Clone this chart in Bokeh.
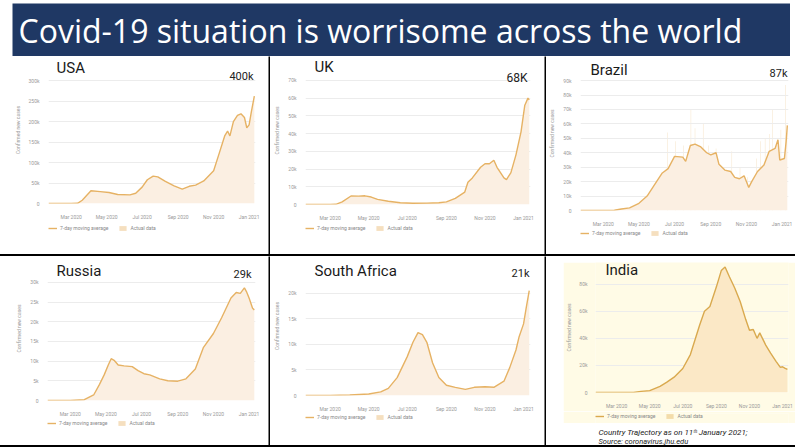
import pandas as pd
from bokeh.plotting import figure
from bokeh.layouts import column, row
from bokeh.models import (FixedTicker, DatetimeTickFormatter, Legend, LegendItem,
                          Label, Range1d, Spacer)
from bokeh.embed import file_html
from bokeh.resources import INLINE

TITLE = "Covid-19 situation is worrisome across the world"
CAPTION = "Country Trajectory as on 11ᵗʰ January 2021;"
CAPTION2 = "Source: coronavirus.jhu.edu"
Y_LABEL = "Confirmed new cases"
LEGEND_LINE = "7-day moving average"
LEGEND_BAR = "Actual data"

X_TICKS = ["2020-03-01", "2020-05-01", "2020-07-01", "2020-09-01", "2020-11-01", "2021-01-01"]
X_TICK_LABELS = ["Mar 2020", "May 2020", "Jul 2020", "Sep 2020", "Nov 2020", "Jan 2021"]

# values in thousands of confirmed new cases (7-day average)
usa_dates = ["2020-01-22", "2020-03-01", "2020-03-12", "2020-03-20", "2020-04-04", "2020-04-20",
             "2020-05-05", "2020-05-20", "2020-06-10", "2020-06-20", "2020-07-01", "2020-07-10",
             "2020-07-20", "2020-07-28", "2020-08-10", "2020-08-25", "2020-09-08", "2020-09-20",
             "2020-10-01", "2020-10-15", "2020-11-01", "2020-11-10", "2020-11-20", "2020-11-25",
             "2020-11-29", "2020-12-05", "2020-12-12", "2020-12-18", "2020-12-24", "2020-12-28",
             "2021-01-01", "2021-01-05", "2021-01-10"]
usa_avg = [0, 0, 0.5, 8, 31, 29, 27, 22, 21, 25, 40, 58, 67, 65, 54, 43, 35, 42, 45, 55, 80, 120,
           165, 177, 165, 200, 215, 219, 210, 185, 192, 225, 262]
usa_ticks = [0, 50, 100, 150, 200, 250, 300]
usa_tick_labels = ["0", "50k", "100k", "150k", "200k", "250k", "300k"]

uk_dates = ["2020-01-22", "2020-03-01", "2020-03-10", "2020-03-20", "2020-04-03", "2020-04-15",
            "2020-04-25", "2020-05-05", "2020-05-15", "2020-06-01", "2020-06-20", "2020-07-10",
            "2020-08-01", "2020-08-20", "2020-09-01", "2020-09-15", "2020-09-30", "2020-10-05",
            "2020-10-12", "2020-10-25", "2020-11-01", "2020-11-08", "2020-11-15", "2020-11-20",
            "2020-12-01", "2020-12-05", "2020-12-12", "2020-12-20", "2020-12-28", "2021-01-03",
            "2021-01-08", "2021-01-10"]
uk_avg = [0, 0, 0.1, 1.5, 4.8, 4.7, 4.9, 4.2, 2.9, 1.8, 1.0, 0.7, 0.8, 1.0, 1.5, 3.5, 7, 12.5, 15,
          21, 23, 23, 25, 21, 15, 14, 18, 28, 41, 56, 60, 59]
uk_ticks = [0, 10, 20, 30, 40, 50, 60, 70]
uk_tick_labels = ["0", "10k", "20k", "30k", "40k", "50k", "60k", "70k"]

brazil_dates = ["2020-01-22", "2020-03-01", "2020-03-20", "2020-04-01", "2020-04-15", "2020-05-01",
                "2020-05-15", "2020-06-01", "2020-06-10", "2020-06-20", "2020-07-01", "2020-07-15",
                "2020-07-20", "2020-07-28", "2020-08-05", "2020-08-15", "2020-08-25", "2020-09-01",
                "2020-09-10", "2020-09-15", "2020-09-25", "2020-10-05", "2020-10-12", "2020-10-20",
                "2020-10-28", "2020-11-05", "2020-11-10", "2020-11-20", "2020-12-01", "2020-12-10",
                "2020-12-20", "2020-12-25", "2020-12-28", "2021-01-05", "2021-01-08", "2021-01-10"]
brazil_avg = [0, 0, 0.2, 1, 1.8, 5, 10, 20.5, 26, 29, 37.5, 37, 34, 45, 46, 44, 40, 38.5, 40, 32,
              28, 27, 23, 22, 24, 16, 20, 27, 31.5, 41, 43, 49, 35, 36, 48, 59]
brazil_spike_dates = ["2020-06-19", "2020-07-03", "2020-07-16", "2020-07-29", "2020-08-05",
                      "2020-08-19", "2020-08-28", "2020-09-10", "2020-10-07", "2020-10-21",
                      "2020-11-03", "2020-11-18", "2020-11-25", "2020-12-03", "2020-12-10",
                      "2020-12-16", "2020-12-30", "2021-01-07"]
brazil_spikes = [54, 48, 45, 70, 57, 60, 45, 43, 41, 30, 23, 36, 48, 50, 53, 70, 56, 87]
brazil_ticks = [0, 10, 20, 30, 40, 50, 60, 70, 80, 90]
brazil_tick_labels = ["0", "10k", "20k", "30k", "40k", "50k", "60k", "70k", "80k", "90k"]

russia_dates = ["2020-01-22", "2020-03-01", "2020-03-25", "2020-04-10", "2020-04-20", "2020-04-28",
                "2020-05-05", "2020-05-10", "2020-05-15", "2020-05-22", "2020-06-01", "2020-06-15",
                "2020-06-25", "2020-07-05", "2020-07-15", "2020-08-01", "2020-08-15", "2020-09-01",
                "2020-09-15", "2020-10-01", "2020-10-15", "2020-11-01", "2020-11-15", "2020-12-01",
                "2020-12-10", "2020-12-17", "2020-12-24", "2020-12-28", "2021-01-01", "2021-01-07",
                "2021-01-10"]
russia_avg = [0, 0, 0.2, 1.4, 4.1, 6.5, 9, 10.6, 10.2, 9.0, 8.8, 8.6, 7.6, 6.8, 6.5, 5.5, 5.0, 4.9,
              5.5, 8, 13.5, 17, 21, 26, 27.4, 27.2, 28.6, 27.5, 26, 23.4, 23]
russia_ticks = [0, 5, 10, 15, 20, 25, 30]
russia_tick_labels = ["0", "5k", "10k", "15k", "20k", "25k", "30k"]

sa_dates = ["2020-01-22", "2020-03-01", "2020-04-01", "2020-05-01", "2020-05-20", "2020-06-01",
            "2020-06-15", "2020-07-01", "2020-07-10", "2020-07-18", "2020-07-25", "2020-08-01",
            "2020-08-10", "2020-08-20", "2020-09-01", "2020-09-15", "2020-10-01", "2020-10-15",
            "2020-11-01", "2020-11-15", "2020-12-01", "2020-12-10", "2020-12-20", "2020-12-25",
            "2021-01-01", "2021-01-05", "2021-01-10"]
sa_avg = [0, 0, 0.1, 0.3, 0.7, 1.4, 3.5, 7.6, 10.4, 12.3, 11.9, 10.4, 6.4, 3.5, 2.0, 1.6, 1.2, 1.6,
          1.7, 1.6, 2.8, 5.4, 8.9, 11.5, 14, 17, 20.5]
sa_ticks = [0, 5, 10, 15, 20]
sa_tick_labels = ["0", "5k", "10k", "15k", "20k"]

india_dates = ["2020-01-22", "2020-03-01", "2020-04-01", "2020-04-15", "2020-05-01", "2020-05-20",
               "2020-06-01", "2020-06-15", "2020-07-01", "2020-07-15", "2020-08-01", "2020-08-10",
               "2020-08-20", "2020-09-01", "2020-09-10", "2020-09-17", "2020-09-25", "2020-10-05",
               "2020-10-15", "2020-10-25", "2020-11-01", "2020-11-08", "2020-11-15", "2020-11-20",
               "2020-12-01", "2020-12-10", "2020-12-20", "2020-12-28", "2021-01-01", "2021-01-05",
               "2021-01-10"]
india_avg = [0, 0, 0.1, 0.8, 1.4, 4.5, 7.5, 11.3, 17.7, 28, 49.6, 60, 63.5, 78, 90, 92.7, 85.5, 77,
             67, 54, 46, 46.5, 40, 44, 35, 29, 23, 18.5, 19, 18, 17]
india_ticks = [0, 20, 40, 60, 80]
india_tick_labels = ["0", "20k", "40k", "60k", "80k"]

NAVY = "#1f3864"
LINE = "#e6b264"
FILL = "#fbefe2"
YELLOW = "#fffbe6"
FONT = "Roboto"

X0 = pd.Timestamp("2020-01-22")
X1 = pd.Timestamp("2021-01-12")


def ms(d):
    return pd.Timestamp(d).value // 10**6


def chart(name, peak, dates, avg, ticks, tick_labels, L, bg="white", line=LINE, fill=FILL,
          peak_size="11px", lab_std=3, ax_std=5):
    # L: layout in page pixels
    w, top, bottom = L["w"], L["top"], L["bottom"]
    fl, fr, zero = L["fl"], L["fr"], L["zero"]
    ymax = ticks[-1] * (zero - top) / (zero - L["ttop"])
    p = figure(width=w, height=bottom - top, x_axis_type="datetime", output_backend="svg",
               toolbar_location=None, x_range=Range1d(X0, X1), y_range=Range1d(0, ymax),
               min_border_left=fl - L["left"], min_border_right=L["left"] + w - fr,
               min_border_top=0, min_border_bottom=bottom - zero,
               background_fill_color=bg, border_fill_color=bg, outline_line_color=None)
    x = pd.to_datetime(dates)
    p.varea(x=x, y1=0, y2=avg, fill_color=fill, fill_alpha=1)
    p.line(x=x, y=avg, line_color=line, line_width=1.4)
    xa = p.xaxis[0]
    xa.ticker = FixedTicker(ticks=[ms(d) for d in X_TICKS])
    xa.formatter = DatetimeTickFormatter(days="%b %Y", months="%b %Y", years="%b %Y")
    xa.major_label_standoff = 4
    ya = p.yaxis[0]
    ya.ticker = FixedTicker(ticks=ticks)
    ya.major_label_overrides = {t: l for t, l in zip(ticks, tick_labels)}
    ya.axis_label = Y_LABEL
    ya.axis_label_text_font_size = "5px"
    ya.axis_label_text_font_style = "normal"
    ya.axis_label_text_color = "#999999"
    ya.axis_label_text_font = FONT
    ya.axis_label_standoff = ax_std
    ya.major_label_standoff = lab_std
    for ax in (xa, ya):
        ax.major_label_text_font_size = "5px"
        ax.major_label_text_color = "#999999"
        ax.major_label_text_font = FONT
        ax.axis_line_color = None
        ax.major_tick_line_color = None
        ax.minor_tick_line_color = None
    p.xgrid.grid_line_color = None
    p.ygrid.grid_line_color = "#ececec"
    nx, ny = L["name"]
    p.add_layout(Label(x=nx - fl, y=zero - ny, x_units="screen", y_units="screen",
                       text=name, text_font=FONT, text_font_size="15px", text_color="#1a1a1a",
                       text_baseline="middle", text_align="left"))
    if peak:
        px, py = L["peak"]
        p.add_layout(Label(x=min(px, fr - 3) - fl, y=zero - py, x_units="screen",
                           y_units="screen", text=peak, text_font=FONT, text_font_size=peak_size,
                           text_color="#222222", text_baseline="middle", text_align="right"))
    return p


def legend_strip(L, h, bg="white", line=LINE, fill="#f5dfbf"):
    w = L["w"]
    lx, ly = L["legend"]
    s = figure(width=w, height=h, output_backend="svg", toolbar_location=None,
               min_border_left=lx - L["left"], min_border_top=max(ly - L["bottom"] - 3, 0),
               min_border_right=0, min_border_bottom=0,
               x_axis_location=None, y_axis_location=None,
               x_range=Range1d(0, 1), y_range=Range1d(0, 1),
               background_fill_color=bg, border_fill_color=bg, outline_line_color=None)
    s.grid.visible = False
    # hidden one-point proxies, only used for the legend samples
    ln = s.line(x=[0], y=[0], line_color=line, line_width=1.4, visible=False)
    sq = s.quad(left=[0], right=[0], top=[0], bottom=[0], fill_color=fill, line_color=None,
                visible=False)
    leg = Legend(items=[LegendItem(label=LEGEND_LINE, renderers=[ln]),
                        LegendItem(label=LEGEND_BAR, renderers=[sq])],
                 orientation="horizontal", location="top_left",
                 label_text_font_size="5px", label_text_color="#888888", label_text_font=FONT,
                 glyph_width=9, glyph_height=6, label_height=6, label_width=10,
                 label_standoff=3, spacing=10,
                 padding=0, margin=0, border_line_color=None, background_fill_alpha=0)
    s.add_layout(leg)
    return s


def vsep(h):
    s = figure(width=2, height=h, output_backend="svg", toolbar_location=None,
               min_border=0, x_axis_location=None, y_axis_location=None,
               background_fill_color="black", border_fill_color="black", outline_line_color=None)
    s.grid.visible = False
    return s


def hsep():
    return Spacer(width=795, height=2, styles={"background-color": "black"})


# ---- layout (page pixels) ----
L_usa = dict(left=0, w=268, top=56, bottom=222, fl=47, fr=255, zero=208, ttop=81,
             name=(55, 72), peak=(254, 81), legend=(48, 228))
L_uk = dict(left=270, w=274, top=56, bottom=223, fl=303, fr=530, zero=209, ttop=80.7,
            name=(312, 71), peak=(525, 82), legend=(305, 228))
L_br = dict(left=546, w=249, top=56, bottom=229, fl=578, fr=788, zero=214, ttop=80.7,
            name=(588, 73), peak=(793, 77), legend=(578, 233))
L_ru = dict(left=0, w=268, top=256, bottom=419, fl=45, fr=255, zero=405, ttop=282.7,
            name=(54, 275), peak=(249, 279), legend=(47, 423))
L_sa = dict(left=270, w=274, top=256, bottom=414, fl=303, fr=530, zero=400, ttop=294,
            name=(312, 275), peak=(535, 278), legend=(305, 417))
L_in = dict(left=563, w=232, top=262, bottom=411, fl=587, fr=788, zero=396, ttop=284.3,
            name=(597, 273), peak=None, legend=(588, 416))

# title banner
tfig = figure(width=778, height=53, output_backend="svg", toolbar_location=None,
              min_border=0, x_axis_location=None, y_axis_location=None,
              x_range=Range1d(0, 1), y_range=Range1d(0, 1),
              background_fill_color=NAVY, border_fill_color=NAVY, outline_line_color=None)
tfig.grid.visible = False
tfig.add_layout(Label(x=6, y=26, x_units="screen", y_units="screen", text=TITLE,
                      text_color="white", text_font="Open Sans", text_font_size="32px",
                      text_baseline="middle"))

usa = chart("USA", "400k", usa_dates, usa_avg, usa_ticks, usa_tick_labels, L_usa)
uk = chart("UK", "68K", uk_dates, uk_avg, uk_ticks, uk_tick_labels, L_uk, peak_size="12px")
brazil = chart("Brazil", "87k", brazil_dates, brazil_avg, brazil_ticks, brazil_tick_labels, L_br)
brazil.vbar(x=pd.to_datetime(brazil_spike_dates), top=brazil_spikes, width=86400000 * 0.8,
            fill_color="#f5e2c4", line_color=None, level="underlay")
russia = chart("Russia", "29k", russia_dates, russia_avg, russia_ticks, russia_tick_labels, L_ru)
sa = chart("South Africa", "21k", sa_dates, sa_avg, sa_ticks, sa_tick_labels, L_sa)
india = chart("India", None, india_dates, india_avg, india_ticks, india_tick_labels, L_in,
              bg=YELLOW, line="#d9a94e", fill="#fbe8c6", lab_std=2, ax_std=4)

cap = figure(width=249, height=22, output_backend="svg", toolbar_location=None,
             min_border=0, x_axis_location=None, y_axis_location=None,
             x_range=Range1d(0, 1), y_range=Range1d(0, 1),
             background_fill_color="white", border_fill_color="white", outline_line_color=None)
cap.grid.visible = False
cap.add_layout(Label(x=52, y=13, x_units="screen", y_units="screen", text=CAPTION,
                     text_font=FONT, text_font_size="8px", text_font_style="italic",
                     text_color="#222222", text_baseline="middle"))
cap.add_layout(Label(x=52, y=4.5, x_units="screen", y_units="screen", text=CAPTION2,
                     text_font=FONT, text_font_size="7.5px", text_font_style="italic",
                     text_color="#222222", text_baseline="middle"))

cell_usa = column(usa, legend_strip(L_usa, 254 - 222))
cell_uk = column(uk, legend_strip(L_uk, 254 - 223))
cell_br = column(brazil, legend_strip(L_br, 254 - 229))
cell_ru = column(russia, legend_strip(L_ru, 445 - 419))
cell_sa = column(sa, legend_strip(L_sa, 445 - 414))
cell_in = column(Spacer(width=249, height=6),
                 row(Spacer(width=17, height=161),
                     column(india, legend_strip(L_in, 423 - 411, bg=YELLOW, line="#d9a94e",
                                                fill="#f3dcaa"))),
                 cap)

layout = column(
    Spacer(width=795, height=3),
    row(Spacer(width=12, height=53), tfig),
    row(cell_usa, vsep(198), cell_uk, vsep(198), cell_br),
    hsep(),
    row(cell_ru, vsep(189), cell_sa, vsep(189), cell_in),
    hsep(),
)

open("out.html", "w").write(file_html(layout, INLINE))
